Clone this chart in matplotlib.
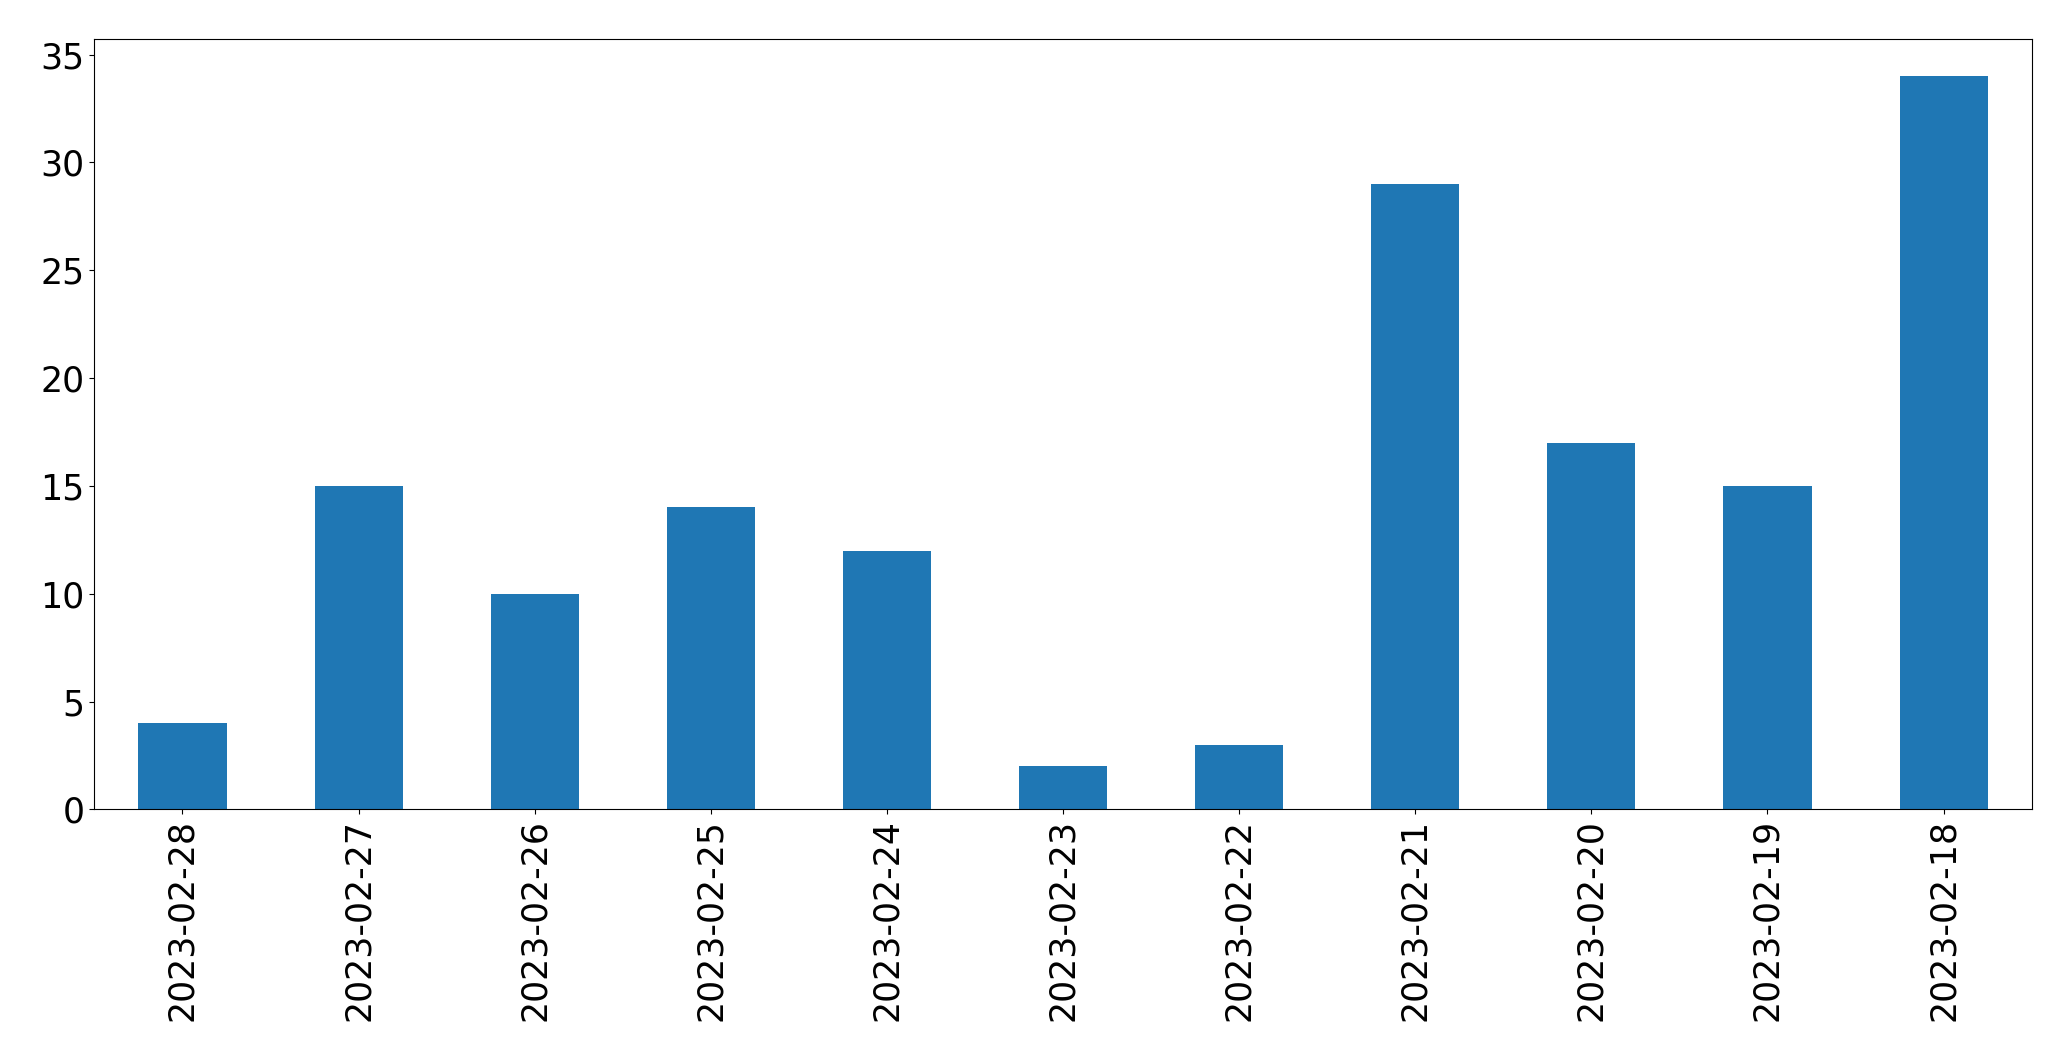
import pandas as pd
import matplotlib
matplotlib.use("Agg")
import matplotlib.pyplot as plt

dates = [
    "2023-02-28", "2023-02-27", "2023-02-26", "2023-02-25", "2023-02-24",
    "2023-02-23", "2023-02-22", "2023-02-21", "2023-02-20", "2023-02-19",
    "2023-02-18",
]
counts = [4, 15, 10, 14, 12, 2, 3, 29, 17, 15, 34]

s = pd.Series(counts, index=dates)

fig, axs = plt.subplots(figsize=(20.71, 10.61), dpi=100)
fig.subplots_adjust(left=0.0456, right=0.981, top=0.9628, bottom=0.2372)

s.plot.bar(ax=axs, color="#1f77b4", fontsize=25)
axs.tick_params(axis="x", labelrotation=90)

fig.savefig("out.png", dpi=100)
